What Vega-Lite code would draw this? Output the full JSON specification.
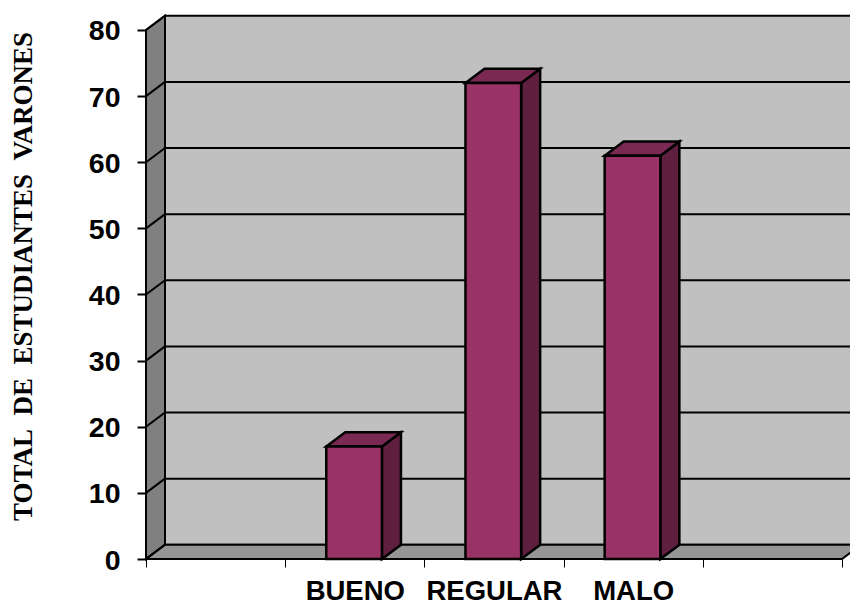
{
"$schema":"https://vega.github.io/schema/vega-lite/v6.json",
"width":704,"height":543,
"autosize":"none",
"padding":{"left":146,"top":16,"right":0,"bottom":45},
"background":"white",
"config":{"view":{"stroke":null},"font":"Liberation Sans"},
"datasets":{
"bars":[{"categoria":"BUENO","idx":1,"valor":17},{"categoria":"REGULAR","idx":2,"valor":72},{"categoria":"MALO","idx":3,"valor":61}],
"grid":[{"v":0},{"v":10},{"v":20},{"v":30},{"v":40},{"v":50},{"v":60},{"v":70},{"v":80}],
"axisX":[{"a":0},{"a":5}]
},
"data":{"name":"grid"},
"transform":[{"calculate":"datum.v+2.15","as":"vb"},{"calculate":"0.1365","as":"dx"},{"calculate":"5.1365","as":"xr"}],
"resolve":{"scale":{"x":"shared","y":"shared"}},
"layer":[
{"mark":{"type":"rect","fill":"#C0C0C0","stroke":"#000000","strokeWidth":2,"clip":false},
 "transform":[{"filter":"datum.v==0"},{"calculate":"82.15","as":"top"}],
 "encoding":{
  "x":{"field":"dx","type":"quantitative","scale":{"domain":[0,5.0575],"range":[0,704],"nice":false,"zero":false},
   "axis":{"values":[0,1,2,3,4,5],"grid":false,"domain":false,"tickSize":8,"tickColor":"#000000","tickWidth":1,"title":null,"labelExpr":"datum.value==1?'BUENO':datum.value==2?'REGULAR':datum.value==3?'MALO':''","labelOffset":69.6,"labelOverlap":false,"labelFont":"Liberation Sans","labelFontWeight":"bold","labelFontSize":27.5,"labelColor":"#000000","labelPadding":10,"labelAngle":0,"labelAlign":"center","labelBaseline":"top","labelFlush":false,"labelBound":false}},
  "x2":{"field":"xr"},
  "y":{"field":"vb","type":"quantitative","scale":{"domain":[0,82.117],"nice":false,"zero":false},
   "axis":{"values":[0,10,20,30,40,50,60,70,80],"grid":false,"domain":false,"tickSize":9,"tickColor":"#000000","tickWidth":2,"labelFont":"Liberation Sans","labelFontWeight":"bold","labelFontSize":28.5,"labelColor":"#000000","labelPadding":17,"labelOffset":1,"title":"TOTAL\u00a0\u00a0DE\u00a0\u00a0ESTUDIANTES\u00a0\u00a0VARONES","titleFont":"Liberation Serif","titleFontWeight":"bold","titleFontSize":27,"titleColor":"#000000","titleX":-123,"titleY":260,"titleAngle":-90,"titleAlign":"center","titleBaseline":"middle"}},
  "y2":{"field":"top"}
 }},
{"mark":{"type":"area","fill":"#808080","stroke":"#000000","strokeWidth":2,"clip":false},
 "transform":[{"filter":"datum.v==0||datum.v==10"},{"calculate":"datum.v==0?0:0.1365","as":"sx"},{"calculate":"datum.v==0?0:2.15","as":"sl"},{"calculate":"datum.v==0?80:82.15","as":"su"}],
 "encoding":{"x":{"field":"sx","type":"quantitative"},"y":{"field":"sl","type":"quantitative"},"y2":{"field":"su"}}},
{"mark":{"type":"area","fill":"#969696","stroke":"#000000","strokeWidth":2,"clip":false},
 "data":{"name":"axisX"},
 "transform":[{"calculate":"datum.a","as":"p"},{"calculate":"[0,1,2,3]","as":"k"},{"flatten":["k"]},{"calculate":"[0,0.1365,5,5.1365][datum.k]","as":"fx"},{"calculate":"[0,2.15,2.15,2.15][datum.k]","as":"fu"},{"calculate":"[0,0,0,2.15][datum.k]","as":"fl"},{"filter":"datum.a==0"}],
 "encoding":{"x":{"field":"fx","type":"quantitative"},"y":{"field":"fl","type":"quantitative"},"y2":{"field":"fu"}}},
{"mark":{"type":"rule","stroke":"#000000","strokeWidth":2,"clip":false},
 "transform":[{"filter":"datum.v>0&&datum.v<80"}],
 "encoding":{"x":{"field":"dx","type":"quantitative"},"x2":{"field":"xr"},"y":{"field":"vb","type":"quantitative"}}},
{"mark":{"type":"rule","stroke":"#000000","strokeWidth":2,"clip":false},
 "transform":[{"calculate":"0","as":"x0"}],
 "encoding":{"x":{"field":"x0","type":"quantitative"},"x2":{"field":"dx"},"y":{"field":"v","type":"quantitative"},"y2":{"field":"vb"}}},
{"mark":{"type":"rule","stroke":"#000000","strokeWidth":2,"clip":false},
 "transform":[{"filter":"datum.v==0"},{"calculate":"0","as":"x0"},{"calculate":"5","as":"x1"}],
 "encoding":{"x":{"field":"x0","type":"quantitative"},"x2":{"field":"x1"},"y":{"field":"v","type":"quantitative"}}},
{"mark":{"type":"area","fill":"#5F1F3F","stroke":"#000000","strokeWidth":2.5,"clip":false},
 "data":{"name":"bars"},
 "transform":[{"calculate":"[0,1]","as":"t"},{"flatten":["t"]},{"calculate":"datum.idx+0.695+datum.t*0.1365","as":"sx"},{"calculate":"datum.t*2.15","as":"sl"},{"calculate":"datum.valor+datum.t*2.15","as":"su"}],
 "encoding":{"x":{"field":"sx","type":"quantitative"},"y":{"field":"sl","type":"quantitative"},"y2":{"field":"su"},"detail":{"field":"categoria"}}},
{"mark":{"type":"area","fill":"#7A2952","stroke":"#000000","strokeWidth":2.5,"clip":false},
 "data":{"name":"bars"},
 "transform":[{"calculate":"[0,1,2,3]","as":"t"},{"flatten":["t"]},{"calculate":"datum.idx+[0.295,0.4315,0.695,0.8315][datum.t]","as":"sx"},{"calculate":"datum.valor+[0,0,0,2.15][datum.t]","as":"sl"},{"calculate":"datum.valor+[0,2.15,2.15,2.15][datum.t]","as":"su"}],
 "encoding":{"x":{"field":"sx","type":"quantitative"},"y":{"field":"sl","type":"quantitative"},"y2":{"field":"su"},"detail":{"field":"categoria"}}},
{"mark":{"type":"rect","fill":"#993366","stroke":"#000000","strokeWidth":2.5,"clip":false},
 "data":{"name":"bars"},
 "transform":[{"calculate":"datum.idx+0.295","as":"x0"},{"calculate":"datum.idx+0.695","as":"x1"},{"calculate":"0","as":"y0"}],
 "encoding":{"x":{"field":"x0","type":"quantitative"},"x2":{"field":"x1"},"y":{"field":"valor","type":"quantitative"},"y2":{"field":"y0"}}}
]
}
